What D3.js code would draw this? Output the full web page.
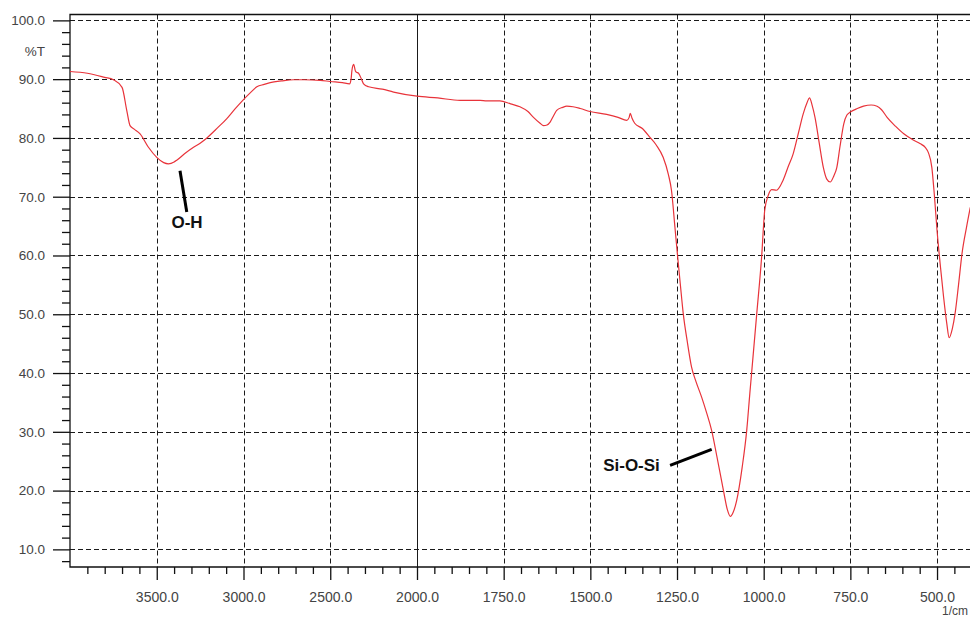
<!DOCTYPE html>
<html>
<head>
<meta charset="utf-8">
<script src="https://cdn.jsdelivr.net/npm/d3@7"></script>
<style>
  body { margin: 0; background: #fff; }
  text { font-family: "Liberation Sans", Arial, sans-serif; }
  .tick text { fill: #444; }
</style>
</head>
<body>
<div id="chart"></div>
<script>
// spectrum: wavenumber (1/cm) and transmittance (%T)
const wavenumber = [4000, 3900, 3800, 3750, 3700, 3673, 3654, 3630, 3596, 3550, 3500, 3460, 3433, 3400,
  3385, 3340, 3288, 3250, 3211, 3150, 3096, 3050, 3004, 2960, 2923, 2880, 2846, 2780, 2712, 2650,
  2558, 2500, 2430, 2389, 2380, 2375, 2365, 2355, 2350, 2337, 2320, 2308, 2279, 2200, 2135, 2000,
  1940, 1876, 1818, 1799, 1761, 1730, 1703, 1680, 1664, 1645, 1635, 1625, 1616, 1605, 1597, 1580,
  1568, 1550, 1529, 1501, 1453, 1420, 1395, 1388, 1385, 1380, 1372, 1350, 1328, 1310, 1290, 1275,
  1266, 1256, 1248, 1240, 1232, 1220, 1208, 1195, 1179, 1165, 1150, 1135, 1116, 1105, 1096, 1088,
  1078, 1062, 1049, 1040, 1035, 1020, 1006, 997, 987, 977, 963, 944, 930, 915, 900, 886, 875, 868,
  860, 852, 840, 828, 818, 808, 798, 789, 780, 769, 760, 750, 730, 712, 690, 673, 660, 644, 620,
  596, 570, 548, 534, 525, 515, 508, 500, 490, 481, 472, 465, 456, 448, 438, 428, 415, 404];
const transmittance = [91.3, 91.0, 90.3, 89.9, 88.6, 84.7, 82.1, 81.5, 80.7, 78.5, 76.7, 75.8, 75.6, 75.9,
  76.2, 77.3, 78.4, 79.1, 80.0, 81.7, 83.3, 84.9, 86.4, 87.7, 88.7, 89.1, 89.4, 89.7, 89.9, 89.9,
  89.8, 89.6, 89.4, 89.2, 90.0, 91.5, 92.5, 91.4, 91.2, 91.0, 90.0, 89.2, 88.7, 88.3, 87.8, 87.1,
  86.8, 86.4, 86.4, 86.3, 86.3, 85.8, 85.3, 84.5, 83.5, 82.5, 82.1, 82.2, 82.7, 83.9, 84.7, 85.2,
  85.4, 85.3, 85.0, 84.5, 84.0, 83.5, 83.0, 83.5, 84.2, 83.4, 82.5, 81.6, 80.1, 78.8, 76.7, 73.8,
  71.1, 64.8, 59.7, 54.8, 50.1, 45.2, 41.0, 38.5, 35.9, 33.3, 30.2, 25.8, 20.0, 16.8, 15.6, 16.3,
  18.3, 24.0, 30.2, 36.5, 39.9, 50.1, 59.7, 67.7, 70.2, 71.2, 71.1, 72.8, 75.0, 77.3, 80.8, 84.1, 86.0, 86.8,
  85.5, 83.5, 79.2, 75.0, 73.0, 72.5, 73.5, 75.0, 78.5, 82.4, 83.9, 84.4, 85.0, 85.4, 85.6, 85.4, 84.8, 83.5, 82.0,
  80.7, 79.7, 79.0, 78.4, 77.5, 75.0, 70.5, 64.3, 58.0, 52.9, 48.5, 46.0, 47.5, 50.1, 55.0, 60.3, 64.8, 68.2];

// axis ticks
const xMajor = [3500, 3000, 2500, 2000, 1750, 1500, 1250, 1000, 750, 500];
const xMinorWide = d3.range(3900, 2000, -100).filter(d => d % 500 !== 0);
const xMinorNarrow = d3.range(1950, 400, -50).filter(d => d % 250 !== 0);
const yMajor = [10, 20, 30, 40, 50, 60, 70, 80, 90, 100];
const yMinor = d3.range(8, 100, 2).filter(d => d % 10 !== 0);

// band labels
const annotations = [
  {label: "O-H", line: [[3366, 74.4], [3327, 67.4]], text: [3415, 64.6]},
  {label: "Si-O-Si", line: [[1270, 24.3], [1150, 27.0]], text: [1463, 23.4]}
];

const data = wavenumber.map((w, i) => ({w: w, t: transmittance[i]}));

const W = 970, H = 617;
const margin = {top: 14.5, left: 70, bottom: 567};

const svg = d3.select("#chart")
  .append("svg")
    .attr("width", W)
    .attr("height", H);

// the x axis is split at 2000: the high range is squeezed to half scale
const x = d3.scaleLinear()
  .domain([4000, 2000, 400])
  .range([margin.left, 417, 971.7]);

const y = d3.scaleLinear()
  .domain([7, 101])
  .range([margin.bottom, margin.top]);

// horizontal grid
svg.append("g")
  .selectAll("line")
  .data(yMajor)
  .join("line")
    .attr("x1", margin.left)
    .attr("x2", W)
    .attr("y1", d => Math.round(y(d)) + 0.5)
    .attr("y2", d => Math.round(y(d)) + 0.5)
    .attr("stroke", "#1a1a1a")
    .attr("stroke-dasharray", "5,3");

// vertical grid, solid at the scale break
svg.append("g")
  .selectAll("line")
  .data(xMajor)
  .join("line")
    .attr("x1", d => Math.round(x(d)) + 0.5)
    .attr("x2", d => Math.round(x(d)) + 0.5)
    .attr("y1", margin.top)
    .attr("y2", margin.bottom)
    .attr("stroke", "#1a1a1a")
    .attr("stroke-dasharray", d => d === 2000 ? null : "5,3");

// frame
svg.append("path")
  .attr("d", `M${W},${margin.top} H${margin.left} V${margin.bottom} H${W}`)
  .attr("fill", "none")
  .attr("stroke", "#111")
  .attr("stroke-width", 1.3);

// y axis
svg.append("g")
  .attr("transform", `translate(${margin.left},0)`)
  .call(d3.axisLeft(y).tickValues(yMinor).tickSize(8).tickFormat(""))
  .call(g => g.select(".domain").remove());

svg.append("g")
  .attr("transform", `translate(${margin.left},0)`)
  .call(d3.axisLeft(y).tickValues(yMajor).tickSize(17).tickPadding(8).tickFormat(d3.format(".1f")))
  .call(g => g.select(".domain").remove())
  .call(g => g.selectAll("text").style("font-size", "13.5px"));

// x axis
svg.append("g")
  .attr("transform", `translate(0,${margin.bottom})`)
  .call(d3.axisBottom(x).tickValues(xMinorWide.concat(xMinorNarrow)).tickSize(7).tickFormat(""))
  .call(g => g.select(".domain").remove());

svg.append("g")
  .attr("transform", `translate(0,${margin.bottom})`)
  .call(d3.axisBottom(x).tickValues(xMajor).tickSize(13).tickPadding(12).tickFormat(d3.format(".1f")))
  .call(g => g.select(".domain").remove())
  .call(g => g.selectAll("text").style("font-size", "14px"));

svg.selectAll(".tick line").attr("stroke", "#111").attr("stroke-width", 1.3);

// unit labels
svg.append("text")
  .attr("x", 45)
  .attr("y", 56)
  .attr("text-anchor", "end")
  .style("font-size", "13.5px")
  .style("fill", "#444")
  .text("%T");

svg.append("text")
  .attr("x", 968)
  .attr("y", 614.5)
  .attr("text-anchor", "end")
  .style("font-size", "12px")
  .style("fill", "#444")
  .text("1/cm");

// spectrum
svg.append("path")
  .datum(data)
  .attr("fill", "none")
  .attr("stroke", "#e8333a")
  .attr("stroke-width", 1.2)
  .attr("d", d3.line()
    .x(d => x(d.w))
    .y(d => y(d.t))
    .curve(d3.curveMonotoneX)
  );

// band labels
const note = svg.append("g").selectAll("g")
  .data(annotations)
  .join("g");

note.append("line")
  .attr("x1", d => x(d.line[0][0]))
  .attr("y1", d => y(d.line[0][1]))
  .attr("x2", d => x(d.line[1][0]))
  .attr("y2", d => y(d.line[1][1]))
  .attr("stroke", "#000")
  .attr("stroke-width", 3);

note.append("text")
  .attr("x", d => x(d.text[0]))
  .attr("y", d => y(d.text[1]))
  .style("font-size", "17px")
  .style("font-weight", "bold")
  .style("fill", "#111")
  .text(d => d.label);
</script>
</body>
</html>
